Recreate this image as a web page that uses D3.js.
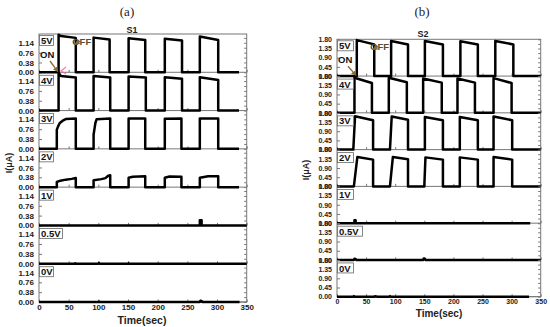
<!DOCTYPE html>
<html>
<head>
<meta charset="utf-8">
<script src="https://cdn.jsdelivr.net/npm/d3@7"></script>
<style>
  body { margin: 0; background: #fff; }
  svg { display: block; }
  .tick text { font-family: "Liberation Sans", Arial, sans-serif; font-weight: bold; fill: #222; }
</style>
</head>
<body>
<svg id="chart" width="550" height="327"></svg>
<script>
// panel labels and ticks
const voltLabels = ['5V', '4V', '3V', '2V', '1V', '0.5V', '0V'];
const timeTicks = [0, 50, 100, 150, 200, 250, 300, 350];
const s1Ticks = [0, 0.38, 0.76, 1.14];
const s2Ticks = [0, 0.45, 0.90, 1.35, 1.80];

// S1 traces, [time(sec), I(uA)]
const s1_5V = [[0,0],[33,0],[33,1.45],[37,1.40],[62,1.33],[62,0],[92,0],[92,1.34],[119,1.27],[119,0],[151,0],[151,1.32],[179,1.25],[179,0],[212,0],[212,1.30],[241,1.23],[241,0],[271,0],[271,1.38],[302,1.25],[302,0],[337,0]];
const s1_4V = [[0,0],[33,0],[33,1.46],[37,1.34],[62,1.28],[62,0],[92,0],[92,1.34],[120,1.28],[120,0],[151,0],[151,1.32],[180,1.28],[180,0],[212,0],[212,1.29],[241,1.23],[241,0],[271,0],[271,1.29],[302,1.18],[302,0],[337,0]];
const s1_3V = [[0,0],[30,0],[30,0.74],[32,0.86],[35,1.00],[40,1.09],[45,1.15],[62,1.17],[62,0],[92,0],[92,0.55],[95,1.00],[97,1.14],[120,1.17],[120,0],[151,0],[151,1.17],[179,1.17],[179,0],[212,0],[212,1.16],[240,1.17],[240,0],[271,0],[271,1.17],[302,1.17],[302,0],[337,0]];
const s1_2V = [[0,0],[30,0],[30,0.20],[36,0.25],[45,0.29],[55,0.32],[62,0.35],[62,0],[92,0],[92,0.27],[105,0.31],[112,0.35],[116,0.43],[120,0.46],[120,0],[151,0],[151,0.36],[158,0.40],[179,0.42],[179,0],[212,0],[212,0.36],[220,0.41],[240,0.40],[240,0],[271,0],[271,0.36],[285,0.42],[302,0.42],[302,0],[337,0]];
const s1_1V = [[0,0],[271,0],[271,0.20],[274,0.20],[274,0],[350,0]];
const s1_05V = [[0,0],[60,0],[61,0.02],[62,0],[100,0],[101,0.03],[102,0],[150,0],[151,0.02],[152,0],[350,0]];
const s1_0V = [[0,0],[100,0],[101,0.02],[102,0],[271,0],[272,0.05],[274,0.04],[275,0],[338,0]];

// S2 traces
const s2_5V = [[0,0],[34,0],[34,1.76],[64,1.55],[64,0],[93,0],[93,1.72],[122,1.55],[122,0],[151,0],[151,1.72],[182,1.55],[182,0],[212,0],[212,1.70],[242,1.55],[242,0],[272,0],[272,1.72],[303,1.55],[303,0],[350,0]];
const s2_4V = [[0,0],[30,0],[30,1.72],[60,1.46],[60,0],[89,0],[89,1.72],[120,1.50],[120,0],[148,0],[148,1.68],[180,1.48],[180,0],[207,0],[207,1.68],[237,1.48],[237,0],[269,0],[269,1.70],[300,1.46],[300,0],[350,0]];
const s2_3V = [[0,0],[28,0],[31,1.63],[62,1.44],[62,0],[91,0],[94,1.62],[122,1.46],[122,0],[151,0],[151,1.60],[182,1.44],[182,0],[211,0],[211,1.60],[242,1.44],[242,0],[269,0],[269,1.62],[301,1.44],[301,0],[350,0]];
const s2_2V = [[0,0],[29,0],[35,1.44],[62,1.31],[62,0],[91,0],[96,1.44],[122,1.33],[122,0],[150,0],[152,1.42],[182,1.31],[182,0],[211,0],[211,1.42],[242,1.31],[242,0],[269,0],[269,1.44],[301,1.31],[301,0],[350,0]];
const s2_1V = [[0,0],[30,0],[30,0.14],[32,0.14],[32,0],[332,0]];
const s2_05V = [[0,0],[29,0],[30,0.06],[32,0.05],[33,0],[148,0],[149,0.07],[151,0.06],[152,0],[350,0]];
const s2_0V = [[0,0],[28,0],[29,0.03],[30,0],[64,0],[65,0.02],[70,0],[90,0],[91,0.03],[92,0],[330,0]];

const svg = d3.select('#chart');
const sans = '"Liberation Sans", Arial, sans-serif';

function drawChart(cfg) {
  const x = d3.scaleLinear().domain([0, 350]).range([cfg.left, cfg.right]);
  const ph = (cfg.bottom - cfg.top) / cfg.series.length;
  const g = svg.append('g');

  // frame
  g.append('rect')
      .attr('x', cfg.left).attr('y', cfg.top)
      .attr('width', cfg.right - cfg.left).attr('height', cfg.bottom - cfg.top)
      .attr('fill', 'none').attr('stroke', '#777').attr('stroke-width', 1);

  const line = d3.line().x(d => x(d[0]));

  cfg.series.forEach((data, i) => {
    const pTop = cfg.top + i * ph;
    const pBot = pTop + ph;
    const y = d3.scaleLinear().domain([0, cfg.yMax]).range([pBot, pTop]);
    const last = i === cfg.series.length - 1;

    // panel separator
    g.append('line')
        .attr('x1', cfg.left).attr('x2', cfg.right)
        .attr('y1', pBot).attr('y2', pBot)
        .attr('stroke', '#777').attr('stroke-width', 1);

    // left axis with labels
    const yAxis = d3.axisLeft(y)
        .tickValues(cfg.ticks)
        .tickFormat(d3.format('.2f'))
        .tickSize(-3)
        .tickPadding(cfg.pad);
    const ya = g.append('g')
        .attr('transform', `translate(${cfg.left},0)`)
        .call(yAxis);
    ya.select('.domain').remove();
    ya.selectAll('line').attr('stroke', '#777');
    ya.selectAll('text').attr('font-size', cfg.tickFont);

    // right axis minor ticks
    const minor = d3.range(0, cfg.yMax + 1e-6, cfg.minorStep);
    const yr = g.append('g')
        .attr('transform', `translate(${cfg.right},0)`)
        .call(d3.axisRight(y).tickValues(minor).tickSize(-2.5).tickFormat(''));
    yr.select('.domain').remove();
    yr.selectAll('line').attr('stroke', '#777');

    // bottom ticks of each panel
    const xAxis = d3.axisBottom(x)
        .tickValues(timeTicks)
        .tickSize(-2.5)
        .tickPadding(2)
        .tickFormat(last ? d3.format('d') : '');
    const xa = g.append('g')
        .attr('transform', `translate(0,${pBot})`)
        .call(xAxis);
    xa.select('.domain').remove();
    xa.selectAll('line').attr('stroke', '#777');
    xa.selectAll('text').attr('font-size', cfg.tickFont);

    // trace
    line.y(d => y(d[1]));
    g.append('path')
        .datum(data)
        .attr('d', line)
        .attr('fill', 'none')
        .attr('stroke', '#000')
        .attr('stroke-width', 2.5)
        .attr('stroke-linejoin', 'round');

    // voltage box
    const lab = voltLabels[i];
    const bw = lab.length > 2 ? cfg.boxW + 9 : cfg.boxW;
    const by = pTop + (i === 0 ? 1.5 : 3);
    g.append('rect')
        .attr('x', cfg.left + 0.5).attr('y', by)
        .attr('width', bw).attr('height', 10)
        .attr('fill', '#fff').attr('stroke', '#666').attr('stroke-width', 0.8);
    g.append('text')
        .attr('x', cfg.left + 2).attr('y', by + 8.6)
        .attr('font-family', sans).attr('font-weight', 'bold')
        .attr('font-size', 9.5).attr('fill', '#111')
        .text(lab);
  });

  // titles
  svg.append('text')
      .attr('x', cfg.tagX).attr('y', 16)
      .attr('text-anchor', 'middle')
      .attr('font-family', '"Liberation Serif", "DejaVu Serif", serif')
      .attr('font-size', 13).attr('fill', '#222')
      .text(cfg.tag);
  svg.append('text')
      .attr('x', cfg.nameX).attr('y', cfg.nameY)
      .attr('text-anchor', 'middle')
      .attr('font-family', sans).attr('font-weight', 'bold')
      .attr('font-size', 9).attr('fill', '#222')
      .text(cfg.name);
  svg.append('text')
      .attr('transform', `translate(${cfg.ylabX},${cfg.ylabY}) rotate(-90)`)
      .attr('text-anchor', 'middle')
      .attr('font-family', sans).attr('font-weight', 'bold')
      .attr('font-size', 9).attr('fill', '#222')
      .text('I(μA)');
  svg.append('text')
      .attr('x', cfg.xlabX).attr('y', cfg.xlabY)
      .attr('text-anchor', 'middle')
      .attr('font-family', sans).attr('font-weight', 'bold')
      .attr('font-size', cfg.xlabFont).attr('fill', '#222')
      .text('Time(sec)');

  // ON / OFF annotations
  const brown = '#8a6a2a';
  svg.append('text')
      .attr('x', cfg.left + 1).attr('y', cfg.top + 24)
      .attr('font-family', sans).attr('font-weight', 'bold')
      .attr('font-size', 9.5).attr('fill', '#111')
      .text('ON');
  svg.append('text')
      .attr('x', x(cfg.offAt)).attr('y', cfg.top + 11)
      .attr('font-family', sans).attr('font-weight', 'bold')
      .attr('font-size', 9.5).attr('fill', '#5a4a30')
      .text('OFF');
  const arrows = [
    [cfg.left + 11, cfg.top + 27, x(cfg.onT) - 1, cfg.top + ph - 1],
    [x(cfg.offAt) + 8, cfg.top + 7, x(cfg.offAt) + 3, cfg.top + 10]
  ];
  arrows.forEach(a => {
    svg.append('line')
        .attr('x1', a[0]).attr('y1', a[1]).attr('x2', a[2]).attr('y2', a[3])
        .attr('stroke', brown).attr('stroke-width', 1.3)
        .attr('marker-end', 'url(#head)');
  });
}

svg.append('defs').append('marker')
    .attr('id', 'head')
    .attr('viewBox', '0 0 10 10')
    .attr('refX', 8).attr('refY', 5)
    .attr('markerWidth', 4).attr('markerHeight', 4)
    .attr('orient', 'auto')
  .append('path')
    .attr('d', 'M0,0L10,5L0,10z')
    .attr('fill', '#8a6a2a');

drawChart({
  left: 39, right: 246.7, top: 34, bottom: 302,
  series: [s1_5V, s1_4V, s1_3V, s1_2V, s1_1V, s1_05V, s1_0V],
  yMax: 1.48, ticks: s1Ticks, minorStep: 0.19, pad: 5, tickFont: 8,
  boxW: 14,
  tag: '(a)', tagX: 127, name: 'S1', nameX: 132, nameY: 32.5,
  ylabX: 11.5, ylabY: 163, xlabX: 142, xlabY: 324, xlabFont: 10.5,
  offAt: 56, onT: 33
});

drawChart({
  left: 337, right: 540.7, top: 39.3, bottom: 296.7,
  series: [s2_5V, s2_4V, s2_3V, s2_2V, s2_1V, s2_05V, s2_0V],
  yMax: 1.80, ticks: s2Ticks, minorStep: 0.225, pad: 5, tickFont: 7,
  boxW: 16,
  tag: '(b)', tagX: 422, name: 'S2', nameX: 423, nameY: 37,
  ylabX: 308.5, ylabY: 170, xlabX: 439, xlabY: 317, xlabFont: 10,
  offAt: 57, onT: 34
});

// stray pink marker near the first ON edge of S1
svg.append('polyline')
    .attr('points', '66,67 61,71 66,74')
    .attr('fill', 'none').attr('stroke', '#ff5aa0').attr('stroke-width', 1.2)
    .attr('opacity', 0.8);
</script>
</body>
</html>
